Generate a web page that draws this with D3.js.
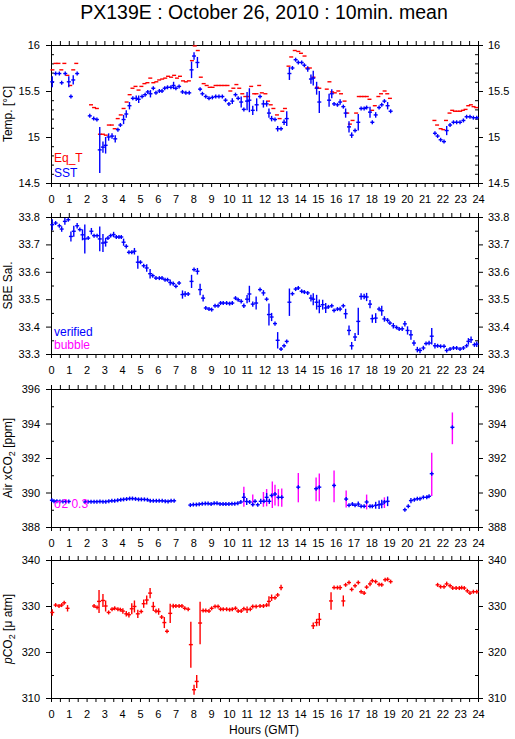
<!DOCTYPE html>
<html>
<head>
<meta charset="utf-8">
<script src="https://cdn.jsdelivr.net/npm/d3@7"></script>
<style>
  body { margin: 0; background: #fff; }
  svg { display: block; font-family: "Liberation Sans", Arial, sans-serif; }
</style>
</head>
<body>
<div id="chart"></div>
<script>
// ---- data: [hour, value, error half-width] ----
const eqTData = [
  [0.08,15.73],[0.25,15.80],[0.42,15.80],[0.58,15.73],[0.75,15.80],[0.92,15.67],[1.08,15.56],[1.25,15.73],[1.42,15.80],
  [2.25,15.35],[2.42,15.32],[2.58,15.31],
  [2.75,15.03],[2.92,15.03],[3.08,15.02],[3.25,15.13],[3.42,15.13],[3.58,15.09],[3.75,15.20],[3.92,15.24],[4.08,15.31],
  [4.25,15.38],[4.42,15.46],[4.58,15.53],[4.75,15.55],[4.92,15.51],[5.08,15.55],[5.25,15.58],[5.42,15.59],[5.58,15.64],
  [5.75,15.59],[5.92,15.60],[6.08,15.62],[6.25,15.63],[6.42,15.64],[6.58,15.66],[6.75,15.65],[6.92,15.67],[7.08,15.64],
  [7.25,15.66],[7.42,15.61],[7.58,15.60],[7.75,15.61],[7.92,15.83],[8.08,15.99],[8.25,15.94],[8.42,15.65],[8.58,15.58],
  [8.75,15.56],[8.92,15.54],[9.08,15.54],[9.25,15.56],[9.42,15.56],[9.58,15.56],[9.75,15.56],[9.92,15.56],[10.08,15.50],
  [10.25,15.53],[10.42,15.57],[10.58,15.53],[10.75,15.47],[10.92,15.44],[11.08,15.44],[11.25,15.55],[11.42,15.47],
  [11.55,15.47],[11.7,15.56],[11.85,15.48],[12.05,15.47],[12.2,15.39],[12.35,15.35],[12.5,15.31],[12.7,15.24],[12.85,15.20],
  [13.0,15.28],[13.15,15.31],[13.35,15.77],[13.5,15.87],[13.7,15.94],[13.9,15.93],[14.05,15.91],[14.25,15.88],[14.4,15.75],
  [14.55,15.75],[14.75,15.65],[14.95,15.54],[15.08,15.53],
  [15.5,15.52],[15.65,15.60],[15.8,15.49],[15.95,15.48],[16.15,15.50],[16.3,15.47],[16.5,15.39],[16.65,15.26],[16.8,15.14],
  [16.95,15.18],[17.15,15.26],[17.3,15.44],[17.45,15.44],[17.6,15.44],[17.75,15.44],[17.9,15.41],[18.05,15.29],[18.2,15.34],
  [18.4,15.44],[18.55,15.47],[18.75,15.50],[18.9,15.47],[19.05,15.42],
  [21.55,15.18],[21.7,15.13],[21.9,15.09],[22.05,15.08],[22.2,15.18],[22.4,15.26],[22.55,15.29],[22.7,15.28],[22.85,15.28],
  [23.0,15.28],[23.15,15.29],[23.3,15.30],[23.45,15.34],[23.6,15.35],[23.75,15.33],[23.9,15.32]
];

const sstData = [
  [0.07,15.60,0.06],[0.26,15.69,0],[0.47,15.69,0],[0.6,15.59,0.02],[0.8,15.69,0],[1.0,15.60,0.06],[1.12,15.44,0],[1.25,15.62,0.05],[1.47,15.69,0],
  [2.18,15.23,0.02],[2.4,15.20,0],[2.58,15.19,0],
  [2.74,14.86,0.25],[2.92,14.89,0.06],[3.07,14.91,0.09],[3.24,15.00,0.04],[3.43,15.01,0.03],[3.61,14.98,0.04],[3.76,15.08,0],
  [3.9,15.13,0],[4.08,15.19,0.05],[4.23,15.25,0.04],[4.41,15.34,0.04],[4.6,15.42,0.02],[4.79,15.42,0.03],[4.93,15.41,0.04],
  [5.12,15.44,0],[5.29,15.46,0],[5.44,15.49,0.02],[5.59,15.47,0.04],[5.75,15.53,0],[5.9,15.48,0],[6.09,15.50,0],[6.24,15.50,0],
  [6.39,15.53,0],[6.55,15.54,0],[6.74,15.54,0],[6.89,15.56,0.04],[7.02,15.53,0],[7.2,15.55,0],[7.39,15.49,0],[7.58,15.48,0],
  [7.77,15.48,0.02],[7.9,15.73,0.09],[8.04,15.88,0.04],[8.23,15.81,0.06],[8.38,15.52,0],[8.51,15.47,0],[8.7,15.44,0],[8.88,15.42,0],
  [9.07,15.43,0],[9.26,15.44,0],[9.44,15.44,0],[9.63,15.44,0],[9.81,15.40,0.02],[10.0,15.36,0],[10.19,15.39,0.03],[10.37,15.46,0],
  [10.52,15.42,0.02],[10.69,15.38,0.06],[10.84,15.30,0],[11.02,15.39,0.1],[11.15,15.40,0.13],[11.34,15.29,0.05],[11.56,15.35,0.07],
  [11.75,15.44,0],[11.94,15.36,0.04],[12.12,15.36,0.03],[12.25,15.26,0.05],[12.4,15.20,0.03],[12.59,15.19,0],[12.74,15.09,0.03],
  [12.93,15.09,0],[13.1,15.16,0.03],[13.25,15.20,0.08],[13.4,15.69,0.07],[13.57,15.75,0.02],[13.75,15.84,0.02],[13.9,15.81,0],
  [14.09,15.81,0],[14.24,15.78,0.02],[14.43,15.74,0.03],[14.61,15.63,0.05],[14.74,15.64,0.08],[14.93,15.53,0.07],[15.08,15.38,0.12],
  [15.63,15.40,0.07],[15.78,15.47,0.05],[15.91,15.36,0],[16.1,15.35,0.02],[16.25,15.38,0.03],[16.43,15.33,0],[16.56,15.26,0.05],
  [16.75,15.11,0.06],[16.9,15.02,0.03],[17.09,15.07,0.02],[17.27,15.16,0.09],[17.43,15.31,0.02],[17.6,15.31,0],[17.74,15.32,0.02],
  [17.93,15.27,0.06],[18.06,15.16,0.02],[18.25,15.24,0.03],[18.44,15.32,0],[18.59,15.35,0],[18.74,15.39,0.02],[18.92,15.34,0.04],
  [19.09,15.28,0.02],
  [21.58,15.04,0.02],[21.73,15.01,0],[21.9,14.97,0],[22.09,14.95,0],[22.24,15.07,0.05],[22.43,15.13,0.02],[22.62,15.16,0.02],
  [22.8,15.16,0],[22.99,15.16,0],[23.18,15.18,0],[23.36,15.22,0.02],[23.55,15.22,0],[23.74,15.21,0],[23.93,15.21,0]
];

const salData = [
  [0.07,33.772,0.02],[0.26,33.778,0],[0.47,33.768,0.005],[0.6,33.756,0.01],[0.78,33.784,0.012],[0.97,33.79,0],[1.12,33.729,0.018],
  [1.28,33.748,0.02],[1.47,33.768,0.01],[1.62,33.754,0],[1.77,33.735,0.02],[1.9,33.72,0.053],[2.09,33.723,0],[2.27,33.748,0.012],
  [2.42,33.732,0],[2.59,33.732,0],[2.74,33.72,0.045],[2.92,33.705,0.033],[3.07,33.708,0.016],[3.2,33.723,0],[3.35,33.732,0],
  [3.52,33.736,0.01],[3.67,33.727,0],[3.82,33.727,0],[3.95,33.727,0],[4.08,33.708,0.013],[4.23,33.693,0.008],[4.38,33.671,0],
  [4.54,33.671,0],[4.69,33.675,0.012],[4.88,33.635,0.024],[5.03,33.635,0],[5.21,33.622,0.006],[5.38,33.614,0.014],[5.57,33.593,0.017],
  [5.72,33.586,0],[5.9,33.577,0],[6.09,33.577,0],[6.24,33.577,0],[6.41,33.571,0],[6.55,33.571,0],[6.7,33.561,0.011],[6.87,33.557,0.008],
  [7.02,33.547,0],[7.2,33.559,0],[7.39,33.517,0.015],[7.54,33.519,0.01],[7.71,33.519,0],[7.9,33.565,0.024],[8.04,33.608,0],
  [8.23,33.602,0.012],[8.38,33.535,0.021],[8.55,33.504,0.012],[8.7,33.468,0],[8.88,33.464,0],[9.03,33.462,0.004],[9.22,33.476,0.005],
  [9.39,33.476,0],[9.53,33.486,0.004],[9.68,33.486,0],[9.87,33.486,0],[10.04,33.484,0],[10.19,33.486,0.006],[10.37,33.504,0.004],
  [10.52,33.498,0],[10.69,33.492,0.008],[10.84,33.476,0.008],[11.02,33.50,0.015],[11.15,33.519,0.03],[11.34,33.482,0.01],
  [11.53,33.486,0.024],[11.75,33.535,0],[11.94,33.523,0.01],[12.12,33.50,0.005],[12.25,33.444,0.04],[12.4,33.435,0.015],
  [12.59,33.411,0.008],[12.74,33.35,0.03],[12.93,33.318,0.006],[13.1,33.33,0.006],[13.25,33.346,0.006],[13.4,33.489,0.05],
  [13.57,33.52,0.005],[13.75,33.537,0.006],[13.9,33.541,0.004],[14.09,33.529,0],[14.24,33.526,0],[14.43,33.523,0],[14.61,33.504,0.012],
  [14.74,33.50,0.022],[14.93,33.489,0.027],[15.08,33.474,0.025],[15.27,33.48,0.018],[15.44,33.468,0.018],[15.59,33.472,0.005],
  [15.78,33.476,0],[15.91,33.459,0.004],[16.1,33.464,0.004],[16.25,33.464,0.008],[16.43,33.476,0],[16.56,33.447,0.018],
  [16.75,33.386,0.018],[16.9,33.33,0.014],[17.09,33.362,0.015],[17.27,33.419,0.05],[17.43,33.51,0.012],[17.6,33.51,0.01],
  [17.74,33.508,0.015],[17.93,33.482,0.015],[18.06,33.429,0.015],[18.25,33.431,0.018],[18.44,33.464,0.008],[18.59,33.458,0.018],
  [18.74,33.428,0.01],[18.92,33.423,0.008],[19.05,33.413,0.006],[19.24,33.403,0.01],[19.42,33.397,0.005],[19.57,33.391,0.005],
  [19.74,33.392,0.008],[19.89,33.41,0.01],[20.04,33.386,0.015],[20.23,33.37,0.018],[20.4,33.34,0.01],[20.59,33.316,0.01],
  [20.74,33.313,0.01],[20.93,33.322,0.008],[21.08,33.338,0.006],[21.25,33.34,0.008],[21.4,33.365,0.03],[21.58,33.33,0.01],
  [21.73,33.33,0.005],[21.9,33.328,0.005],[22.09,33.328,0.006],[22.24,33.313,0.008],[22.43,33.318,0.006],[22.62,33.322,0.006],
  [22.8,33.322,0.004],[22.99,33.318,0.006],[23.18,33.322,0.004],[23.36,33.33,0.006],[23.46,33.346,0.012],[23.61,33.352,0.012],
  [23.8,33.334,0.008],[23.93,33.336,0.01]
];

const airVerified = [
  [0.05,389.55,0.12],[0.17,389.5,0],[0.33,389.5,0],[0.5,389.48,0],[0.67,389.48,0],[0.83,389.48,0],[1.0,389.48,0],
  [1.92,389.45,0],[2.08,389.47,0],[2.25,389.47,0],[2.42,389.47,0],[2.58,389.47,0],[2.75,389.48,0],[2.92,389.47,0],[3.08,389.47,0],
  [3.25,389.5,0],[3.42,389.52,0],[3.58,389.52,0],[3.75,389.55,0],[3.92,389.58,0],[4.08,389.6,0],[4.25,389.62,0],[4.42,389.65,0],
  [4.58,389.65,0],[4.75,389.63,0],[4.92,389.6,0],[5.08,389.6,0],[5.25,389.6,0],[5.42,389.58,0],[5.58,389.52,0],[5.75,389.52,0],
  [5.92,389.52,0],[6.08,389.52,0],[6.25,389.52,0],[6.42,389.5,0],[6.58,389.48,0],[6.75,389.52,0],[6.92,389.52,0],
  [7.83,389.27,0],[8.0,389.3,0],[8.17,389.3,0],[8.33,389.32,0],[8.5,389.35,0],[8.67,389.36,0],[8.83,389.36,0],[9.0,389.33,0],
  [9.17,389.37,0],[9.33,389.37,0],[9.5,389.34,0],[9.67,389.33,0],[9.83,389.33,0],[10.0,389.33,0],[10.17,389.35,0],[10.33,389.35,0],
  [10.5,389.38,0],[10.67,389.45,0.1],[10.84,389.72,0.25],[11.0,389.48,0.2],[11.17,389.45,0.1],[11.34,389.3,0],[11.47,389.49,0],
  [11.62,389.29,0],[11.79,389.49,0.15],[11.97,389.49,0],[12.12,389.72,0.25],[12.27,389.49,0.15],[12.4,389.83,0],[12.59,389.91,0],
  [12.78,389.72,0],[12.97,389.72,0],
  [13.9,390.31,0],[14.9,390.22,0],[15.08,390.31,0],[15.91,390.41,0],[16.59,389.62,0],[16.75,389.26,0],[16.94,389.33,0],
  [17.09,389.26,0],[17.27,389.33,0.15],[17.43,389.2,0],[17.6,389.2,0],[17.74,389.45,0],[17.93,389.2,0],[18.06,389.2,0],
  [18.25,389.26,0.2],[18.44,389.29,0.25],[18.59,389.33,0.25],[18.74,389.45,0],[18.92,389.49,0.28],
  [19.89,389.0,0],[20.08,389.2,0],[20.23,389.53,0.15],[20.42,389.58,0],[20.59,389.64,0],[20.74,389.64,0],[20.93,389.72,0],
  [21.12,389.72,0],[21.25,389.78,0],[21.4,391.09,0],[22.56,393.78,0]
];

const airBubble = [
  [10.84,389.75,0.58],[11.34,389.54,0.34],[11.94,389.6,0.43],[12.12,389.7,0.5],[12.44,389.87,0.77],[12.59,389.85,0.6],
  [12.78,389.7,0.5],[12.97,389.7,0.53],[13.9,390.28,0.85],[14.9,390.18,0.69],[15.08,390.3,0.8],[15.91,390.35,0.92],
  [16.59,389.62,0.49],[17.74,389.45,0.43],[18.74,389.41,0.31],[21.4,391.05,1.25],[22.56,393.72,0.92]
];

const pco2Data = [
  [0.07,328.6,0.7],[0.26,330.2,0],[0.45,330.0,0],[0.6,330.2,0],[0.74,330.7,0],[0.93,329.5,0.7],
  [2.42,330.0,0],[2.59,329.7,0],[2.7,331.0,2.5],[2.92,331.2,1.4],[3.07,330.0,1.2],[3.24,328.6,0],[3.43,329.3,0],[3.58,329.5,0.3],
  [3.76,329.3,0],[3.9,329.2,0],[4.04,328.9,0.6],[4.23,328.3,0.6],[4.38,328.1,0.6],[4.54,329.4,1.2],[4.69,329.9,1.3],[4.88,328.3,0.9],
  [5.07,328.8,0.3],[5.21,330.5,0.9],[5.38,331.3,1.0],[5.57,332.8,1.1],[5.75,329.9,1.0],[5.9,328.9,0.5],[6.05,328.8,0.7],[6.22,327.6,0],
  [6.37,326.4,1.2],[6.52,324.5,0.4],[6.7,328.4,2.1],[6.87,330.0,0.5],[7.02,330.0,0],[7.2,330.0,0],[7.36,330.0,0],[7.52,329.5,0.4],
  [7.71,329.3,0],[7.86,321.6,5.0],[8.04,311.8,1.1],[8.19,313.6,1.4],[8.38,326.3,4.6],[8.55,329.0,0],[8.7,329.0,0],[8.88,328.9,0],
  [9.03,329.5,0.4],[9.22,329.9,0],[9.39,329.9,0],[9.53,329.3,0],[9.68,329.3,0],[9.87,329.3,0],[10.04,329.2,0],[10.19,329.3,0],
  [10.37,329.5,0],[10.52,328.9,0],[10.69,328.9,0],[10.84,329.4,0],[11.02,329.2,0.7],[11.2,329.3,0],[11.34,329.9,0],[11.53,329.9,0],
  [11.75,330.0,0],[11.94,330.0,0],[12.12,330.2,0.4],[12.25,331.0,1.1],[12.4,331.8,0.7],[12.59,331.8,0],[12.74,332.4,0.4],[12.93,334.0,0.6],
  [14.74,325.7,0.7],[14.93,326.4,0.8],[15.08,327.1,1.4],[15.74,331.1,1.9],[15.91,334.0,0],[16.1,334.0,0],[16.25,334.0,0.5],
  [16.43,331.1,1.2],[16.56,334.6,0.4],[16.75,335.1,0.4],[16.9,333.6,0],[17.09,334.4,0],[17.27,335.1,0],[17.43,333.1,0],[17.6,332.8,0.4],
  [17.74,334.1,0],[17.93,334.8,0.5],[18.06,335.5,0],[18.25,335.3,0],[18.44,334.7,0],[18.59,334.6,0],[18.78,335.7,0.3],[18.92,335.8,0.3],
  [19.09,335.3,0.3],
  [21.73,334.6,0],[21.9,334.2,0],[22.09,334.2,0.3],[22.24,334.8,0.5],[22.43,334.4,0],[22.58,333.9,0.3],[22.77,333.9,0],[22.95,333.9,0],
  [23.08,334.0,0],[23.23,333.9,0],[23.4,333.3,0],[23.55,332.8,0],[23.74,333.1,0],[23.93,333.1,0]
];

// tick values
const hourTicks = d3.range(0, 25);
const halfHourTicks = d3.range(0, 48.5).map(i => i / 2);
const tempTicks = [14.5, 15, 15.5, 16];
const salTicks = [33.3, 33.4, 33.5, 33.6, 33.7, 33.8];
const airTicks = [388, 390, 392, 394, 396];
const pco2Ticks = [310, 320, 330, 340];

const W = 515, H = 739;
const svg = d3.select("#chart").append("svg")
  .attr("width", W).attr("height", H);

const x = d3.scaleLinear().domain([0, 24]).range([51, 478]);

svg.append("text")
  .attr("x", 264).attr("y", 18.5)
  .attr("text-anchor", "middle")
  .style("font-size", "19.5px")
  .text("PX139E : October 26, 2010 : 10min. mean");

// one panel = frame + axes on all four sides
function panel(top, bottom, domain, major, minorStep, fmt) {
  const y = d3.scaleLinear().domain(domain).range([bottom, top]);
  const g = svg.append("g");
  const minor = d3.range(Math.round((domain[1] - domain[0]) / minorStep) + 1)
    .map(i => domain[0] + i * minorStep)
    .filter(v => !major.some(m => Math.abs(m - v) < minorStep / 10));

  const styleAxis = sel => {
    sel.select(".domain").remove();
    sel.selectAll("text").style("font-size", "11px").attr("fill", "#000");
    sel.selectAll("line").attr("stroke", "#000");
  };

  g.append("g").attr("transform", `translate(0,${bottom})`)
    .call(d3.axisBottom(x).tickValues(halfHourTicks).tickSize(4).tickPadding(8)
      .tickFormat(d => hourTicks.includes(d) ? d : ""))
    .call(styleAxis);
  g.append("g").attr("transform", `translate(0,${top})`)
    .call(d3.axisTop(x).tickValues(halfHourTicks).tickSize(4).tickFormat(""))
    .call(styleAxis);

  g.append("g").attr("transform", `translate(${x(0)},0)`)
    .call(d3.axisLeft(y).tickValues(major).tickSize(5).tickPadding(6).tickFormat(fmt))
    .call(styleAxis);
  g.append("g").attr("transform", `translate(${x(0)},0)`)
    .call(d3.axisLeft(y).tickValues(minor).tickSize(-3).tickFormat(""))
    .call(styleAxis);
  g.append("g").attr("transform", `translate(${x(24)},0)`)
    .call(d3.axisRight(y).tickValues(major).tickSize(5).tickPadding(5).tickFormat(fmt))
    .call(styleAxis);
  g.append("g").attr("transform", `translate(${x(24)},0)`)
    .call(d3.axisRight(y).tickValues(minor).tickSize(-3).tickFormat(""))
    .call(styleAxis);

  g.append("rect")
    .attr("x", x(0)).attr("y", top)
    .attr("width", x(24) - x(0)).attr("height", bottom - top)
    .attr("fill", "none").attr("stroke", "#000")
    .attr("shape-rendering", "crispEdges");
  return y;
}

function yLabel(top, bottom, build) {
  const t = svg.append("text")
    .attr("transform", `translate(12,${(top + bottom) / 2}) rotate(-90)`)
    .attr("text-anchor", "middle")
    .style("font-size", "12px");
  build(t);
}

// error crosses: vertical bar = +/- err (at least a small plus), short horizontal bar
function crosses(y, data, color, vert = true, horiz = true) {
  const g = svg.append("g").attr("stroke", color).attr("stroke-width", 1.4);
  if (vert) {
    g.selectAll(null).data(data).join("line")
      .attr("x1", d => x(d[0])).attr("x2", d => x(d[0]))
      .attr("y1", d => Math.min(y(d[1] + d[2]), y(d[1]) - 2))
      .attr("y2", d => Math.max(y(d[1] - d[2]), y(d[1]) + 2));
  }
  if (horiz) {
    g.selectAll(null).data(data).join("line")
      .attr("x1", d => x(d[0]) - 2).attr("x2", d => x(d[0]) + 2)
      .attr("y1", d => y(d[1])).attr("y2", d => y(d[1]));
  }
}

const fmt = d3.format("~g");

// ---- panel 1: temperature ----
const yT = panel(45, 183, [14.5, 16], tempTicks, 0.1, fmt);
crosses(yT, eqTData.map(d => [d[0], d[1], 0]), "#ff0000", false, true);
crosses(yT, sstData, "#0000ff");
yLabel(45, 183, t => t.text("Temp. [°C]"));
svg.append("text").attr("x", 54).attr("y", 162).attr("fill", "#ff0000")
  .style("font-size", "12px").text("Eq_T");
svg.append("text").attr("x", 54).attr("y", 176.5).attr("fill", "#0000ff")
  .style("font-size", "12px").text("SST");

// ---- panel 2: salinity ----
const yS = panel(217, 354, [33.3, 33.8], salTicks, 0.05, d3.format(".1f"));
crosses(yS, salData, "#0000ff");
yLabel(217, 354, t => t.text("SBE Sal."));
svg.append("text").attr("x", 54).attr("y", 336).attr("fill", "#0000ff")
  .style("font-size", "12px").text("verified");
svg.append("text").attr("x", 54).attr("y", 349).attr("fill", "#ff00ff")
  .style("font-size", "12px").text("bubble");

// ---- panel 3: air xCO2 ----
const yA = panel(389, 527, [388, 396], airTicks, 1, fmt);
crosses(yA, airBubble, "#ff00ff", true, false);
crosses(yA, airVerified, "#0000ff");
yLabel(389, 527, t => {
  t.append("tspan").text("Air xCO");
  t.append("tspan").attr("dy", 3).style("font-size", "9px").text("2");
  t.append("tspan").attr("dy", -3).text(" [ppm]");
});
svg.append("text").attr("x", 54).attr("y", 508).attr("fill", "#ff00ff")
  .style("font-size", "12px").text("σ2 0.3");

// ---- panel 4: pCO2 ----
const yP = panel(560, 698, [310, 340], pco2Ticks, 5, fmt);
crosses(yP, pco2Data, "#ff0000");
yLabel(560, 698, t => {
  t.append("tspan").style("font-style", "italic").text("p");
  t.append("tspan").text("CO");
  t.append("tspan").attr("dy", 3).style("font-size", "9px").text("2");
  t.append("tspan").attr("dy", -3).text(" [μ atm]");
});

svg.append("text")
  .attr("x", 264).attr("y", 734)
  .attr("text-anchor", "middle")
  .style("font-size", "12px")
  .text("Hours (GMT)");
</script>
</body>
</html>
